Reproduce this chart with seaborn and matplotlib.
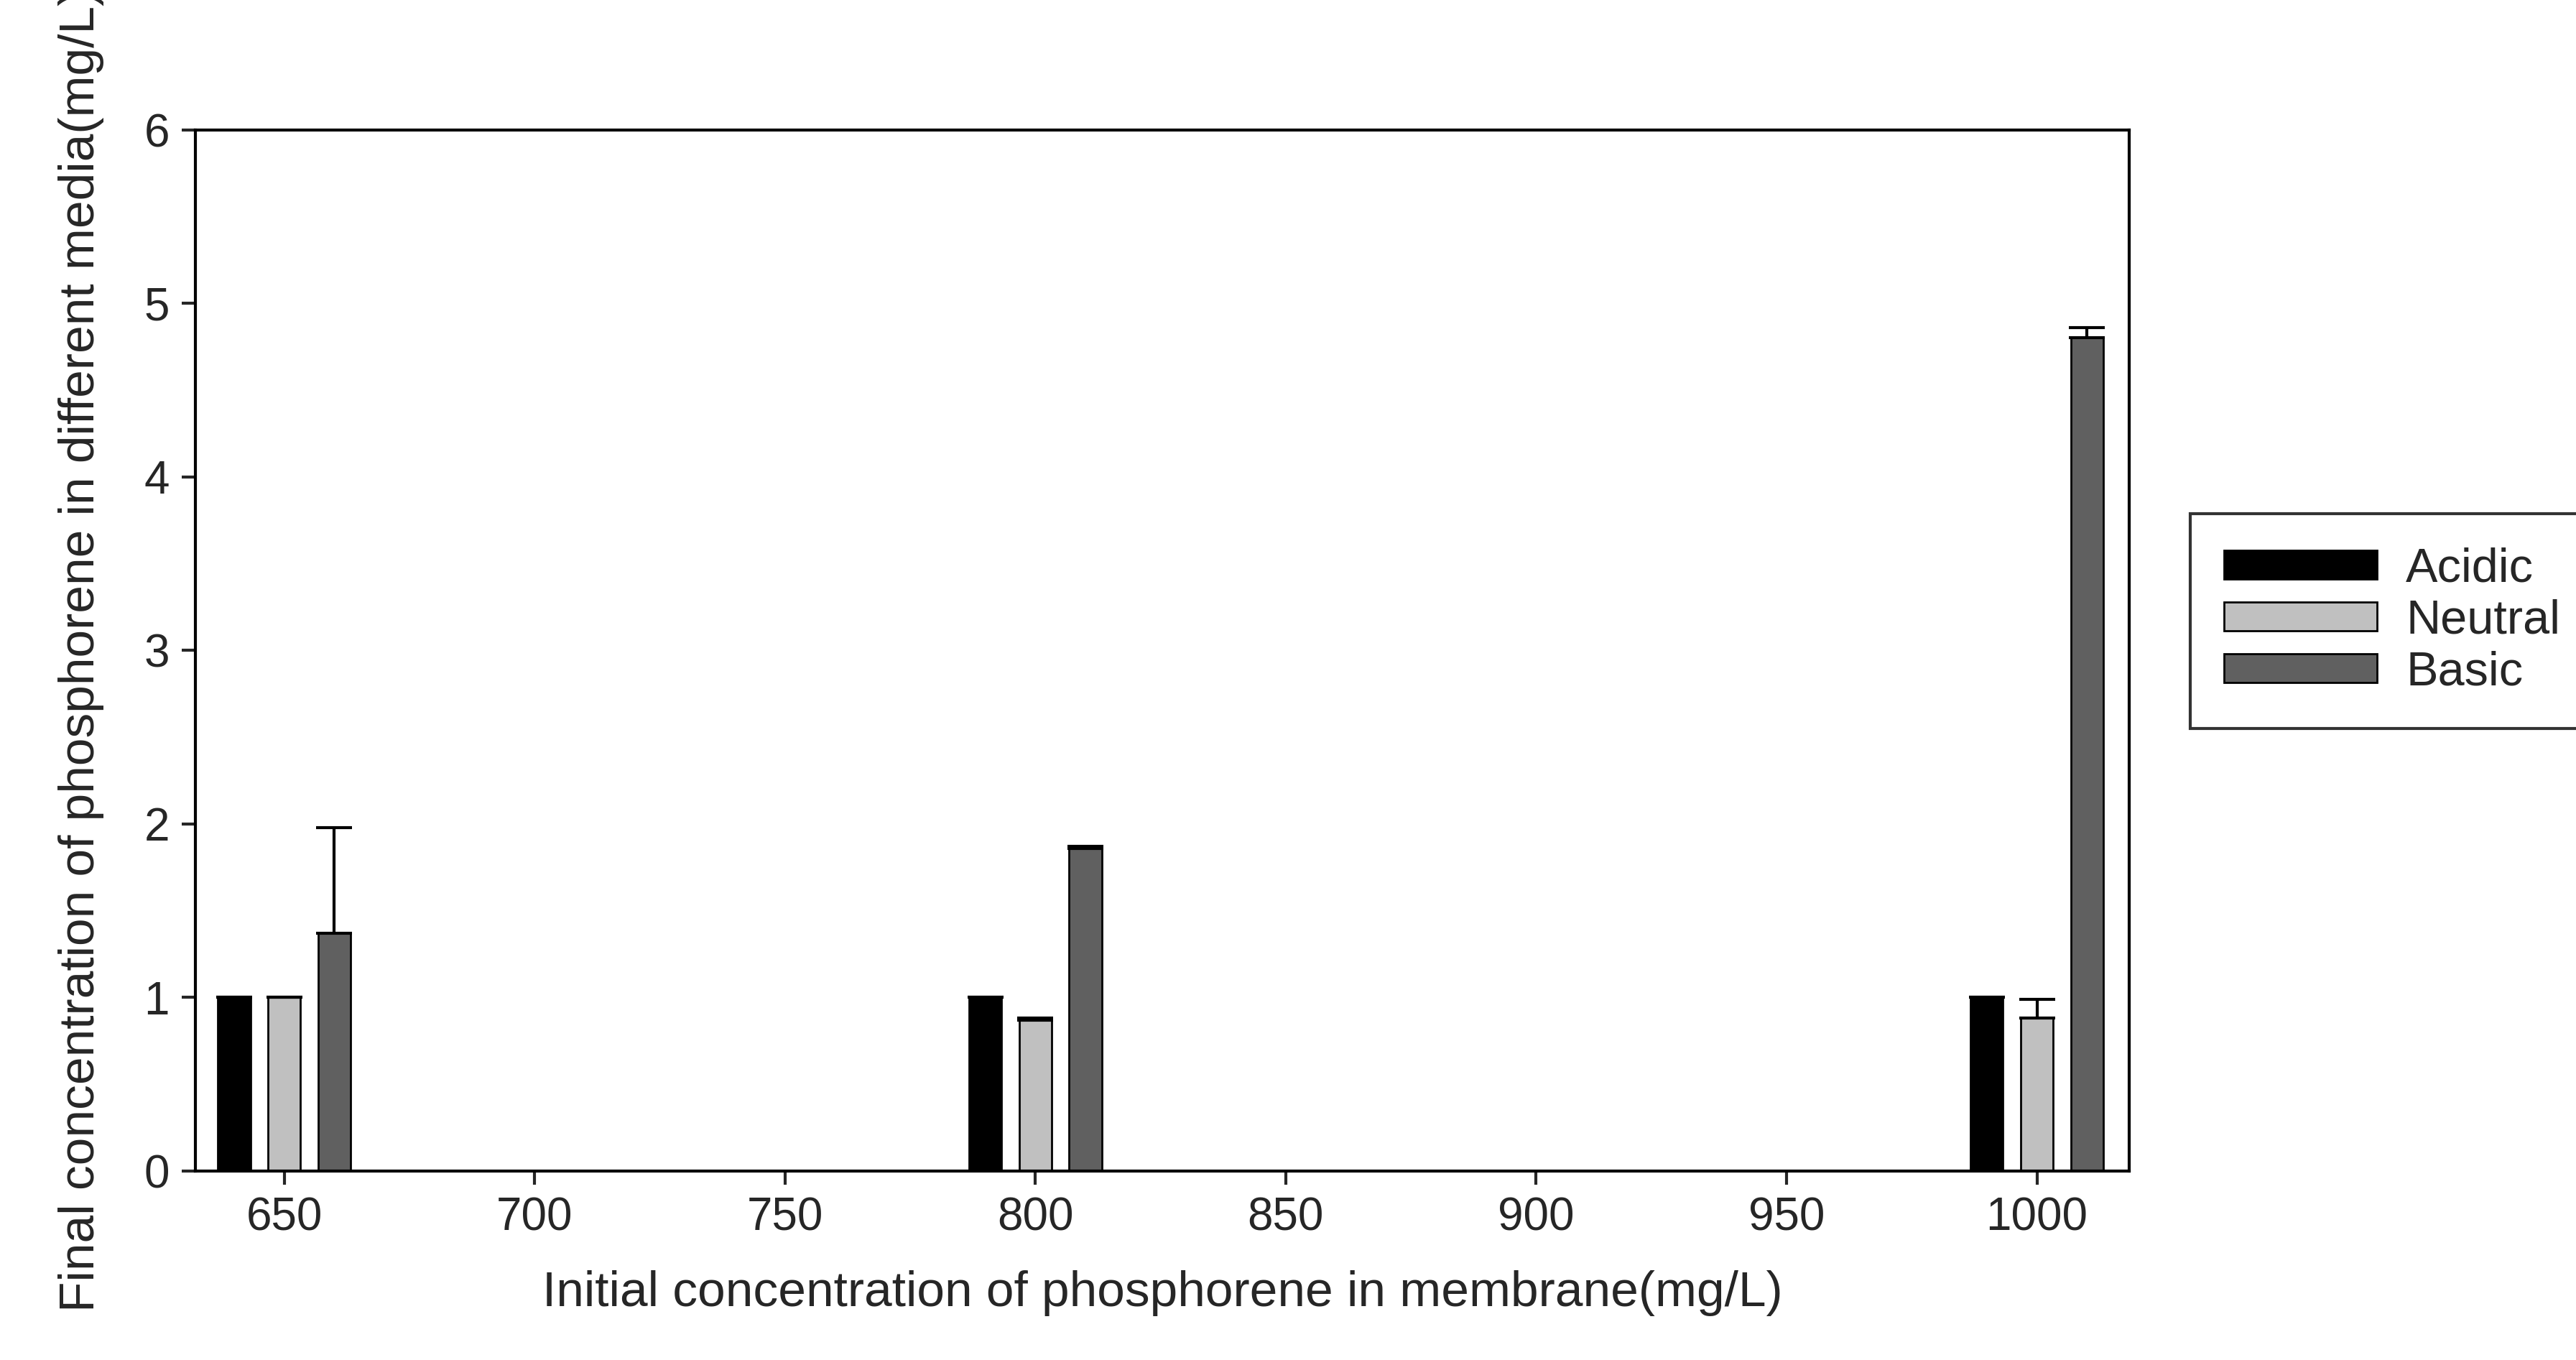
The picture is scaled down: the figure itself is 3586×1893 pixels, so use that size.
import matplotlib
matplotlib.use("Agg")
import matplotlib.pyplot as plt
import seaborn as sns
import numpy as np
from matplotlib.patches import Patch

sns.set_theme(style="white")
plt.rcParams['font.family'] = ['Liberation Sans', 'DejaVu Sans']

concentrations = [650, 800, 1000]
series = ["Acidic", "Neutral", "Basic"]
acidic = [1.0, 1.0, 1.0]
neutral = [1.0, 0.87, 0.88]
basic = [1.37, 1.86, 4.80]
acidic_err = [0.0, 0.0, 0.0]
neutral_err = [0.0, 0.01, 0.11]
basic_err = [0.61, 0.01, 0.06]
colors = ["#000000", "#c0c0c0", "#606060"]
offsets = [-10, 0, 10]

fig = plt.figure(figsize=(35.86, 18.93), dpi=100)
ax = fig.add_axes([0.0759, 0.139, 0.7506, 0.7656])
vals = [acidic, neutral, basic]
errs = [acidic_err, neutral_err, basic_err]
for s, v, e, c, o in zip(series, vals, errs, colors, offsets):
    x = np.array(concentrations) + o
    ax.bar(x, v, width=6.5, color=c, edgecolor="black", linewidth=2, label=s, zorder=2)
    ax.errorbar(x, v, yerr=[np.zeros(3), e], fmt="none", ecolor="black",
                elinewidth=3, capsize=18, capthick=3, zorder=3)

ax.set_xlim(632.3, 1018.4)
ax.set_ylim(0, 6)
ax.set_xticks(range(650, 1001, 50))
ax.set_yticks(range(0, 7))
ax.tick_params(axis="both", labelsize=46, direction="out", length=14, width=3,
               bottom=True, left=True, pad=12)
for sp in ax.spines.values():
    sp.set_linewidth(3)
    sp.set_color("black")
ax.set_xlabel("Initial concentration of phosphorene in membrane(mg/L)", fontsize=50, labelpad=30)
ax.set_ylabel("Final concentration of phosphorene in different media(mg/L)", fontsize=50, labelpad=40)

handles = [Patch(facecolor=c, edgecolor="black", linewidth=2, label=s) for s, c in zip(series, colors)]
leg = fig.legend(handles=handles, loc="upper left", bbox_to_anchor=(0.841, 0.64),
                 fontsize=48, frameon=True, fancybox=False, handlelength=3.2,
                 handleheight=0.55, labelspacing=0.15, borderpad=0.7, handletextpad=0.6,
                 edgecolor="black")
leg.get_frame().set_linewidth(3)
fig.savefig("out.png", dpi=100)
